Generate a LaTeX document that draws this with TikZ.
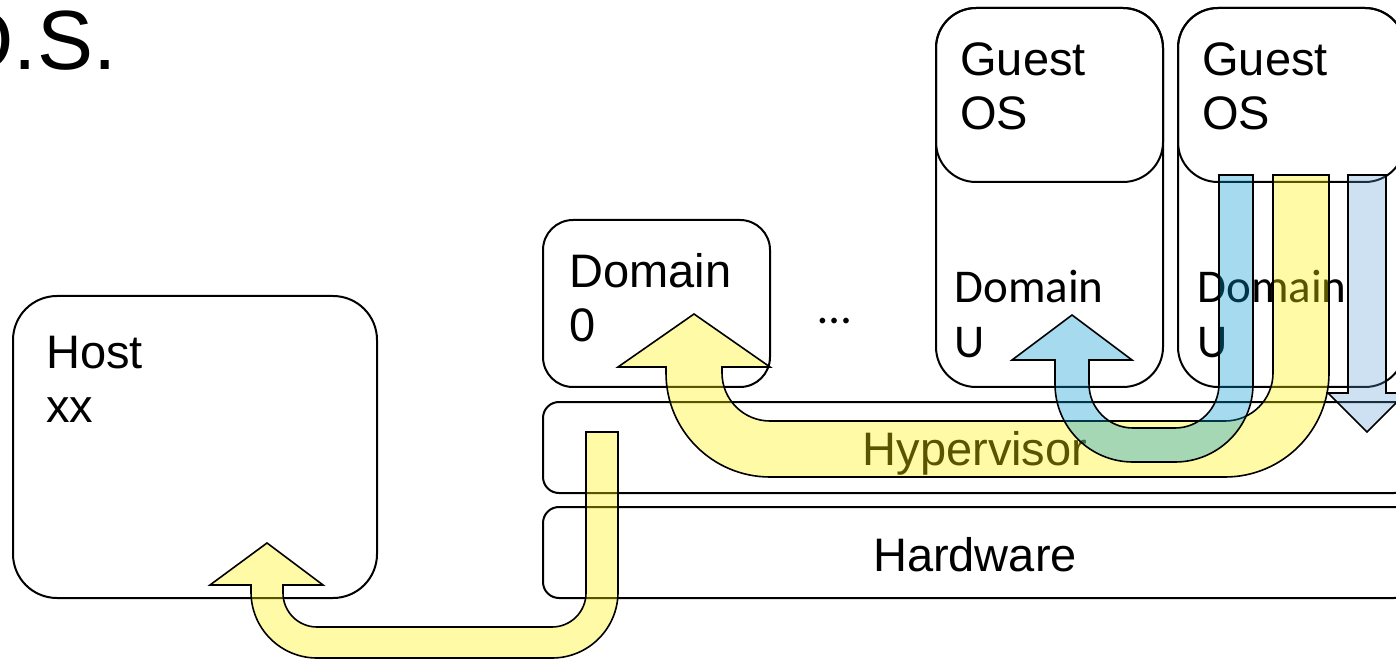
\documentclass[tikz,border=0pt]{standalone}
\usepackage{fontspec}
\setmainfont{Liberation Sans}
\newfontfamily\calibrifont{Carlito}
\usetikzlibrary{positioning}
\definecolor{arrowyellow}{RGB}{255,241,0}
\definecolor{arrowblue}{RGB}{0,150,210}
\definecolor{arrowpale}{RGB}{91,155,213}

\begin{document}
\begin{tikzpicture}[
    x=0.5pt, y=0.5pt,
    every node/.style={font=\fontsize{23.5}{27}\selectfont, inner sep=0pt},
    box/.style={draw, line width=1pt, rounded corners=#1},
    box/.default=20pt,
    lbl/.style={anchor=base west, align=left},
    ulbl/.style={lbl, font=\calibrifont\fontsize{23.5}{27.5}\selectfont},
    yarr/.style={draw, line width=0.8pt, fill=arrowyellow, fill opacity=0.35},
    barr/.style={draw, line width=0.8pt, fill=arrowblue, fill opacity=0.35},
    parr/.style={draw, line width=0.8pt, fill=arrowpale, fill opacity=0.3},
]
    \useasboundingbox (0,0) rectangle (1396,659);
    \clip (0,0) rectangle (1396,659);

    % Slide title, cut at the left edge.
    \node[anchor=base east, font=\fontsize{42}{46}\selectfont] (title) at (117,589) {O.S.};

    % Host on the left.
    \node[box=22pt, minimum width=182pt, minimum height=151pt] (host) at (195,212) {};
    \node[lbl] (hostlbl) at (46,236) {Host\\xx};

    % Domain 0, hypervisor and hardware.
    \node[box=15pt, minimum width=113.5pt, minimum height=83.5pt] (dom0) at (656.5,355.5) {};
    \node[lbl] (dom0lbl) at (569,317) {Domain\\0};
    \node[anchor=base, font=\calibrifont\fontsize{23.5}{27.5}\selectfont] (dots) at (835,335) {…};
    \node[box=8pt, minimum width=433.5pt, minimum height=45.5pt] (hyper) at (976.5,211.5) {};
    \node[anchor=base] (hyperlbl) at (975,194) {Hypervisor};
    \node[box=8pt, minimum width=433.5pt, minimum height=45.5pt] (hard) at (976.5,106.5) {};
    \node[anchor=base] (hardlbl) at (975,88) {Hardware};

    % Two guest domains.
    \node[box, minimum width=113.5pt, minimum height=189.5pt] (domu1) at (1049.5,461.5) {};
    \node[box, minimum width=113.5pt, minimum height=87pt] (os1) at (1049.5,564) {};
    \node[lbl] (os1lbl) at (960,529) {Guest\\OS};
    \node[ulbl] (domu1lbl) at (954,301) {Domain\\U};
    \node[box, minimum width=113.5pt, minimum height=189.5pt] (domu2) at (1291.5,461.5) {};
    \node[box, minimum width=113.5pt, minimum height=87pt] (os2) at (1291.5,564) {};
    \node[lbl] (os2lbl) at (1202,529) {Guest\\OS};
    \node[ulbl] (domu2lbl) at (1197,301) {Domain\\U};

    % Hardware up to host.
    \path[yarr] (618,227) -- (618,67) arc[start angle=0, end angle=-90, radius=33pt]
        -- (317,1) arc[start angle=270, end angle=180, radius=33pt]
        -- (251,74) -- (210,74) -- (267,116) -- (323,74) -- (283,74)
        -- (283,66) arc[start angle=180, end angle=270, radius=17pt]
        -- (552,32) arc[start angle=270, end angle=360, radius=17pt]
        -- (586,227) -- cycle;

    % Guest OS down through the hypervisor to domain 0.
    \path[yarr] (1329,484) -- (1329,286) arc[start angle=0, end angle=-90, radius=52pt]
        -- (770,182) arc[start angle=270, end angle=180, radius=52pt]
        -- (666,292) -- (618,292) -- (694,345) -- (770,292) -- (722,292)
        -- (722,286) arc[start angle=180, end angle=270, radius=24pt]
        -- (1225,238) arc[start angle=270, end angle=360, radius=24pt]
        -- (1273,484) -- cycle;

    % Guest OS over to the other guest.
    \path[barr] (1253,484) -- (1253,275) arc[start angle=0, end angle=-90, radius=39pt]
        -- (1133,197) arc[start angle=270, end angle=180, radius=39pt]
        -- (1055,299) -- (1012,299) -- (1072,344) -- (1132,299) -- (1089,299)
        -- (1089,275) arc[start angle=180, end angle=270, radius=22pt]
        -- (1175,231) arc[start angle=270, end angle=360, radius=22pt]
        -- (1219,484) -- cycle;

    % Guest OS straight down.
    \path[parr] (1348,484) -- (1386,484) -- (1386,266) -- (1406,266)
        -- (1367,227) -- (1328,266) -- (1348,266) -- cycle;
\end{tikzpicture}
\end{document}
